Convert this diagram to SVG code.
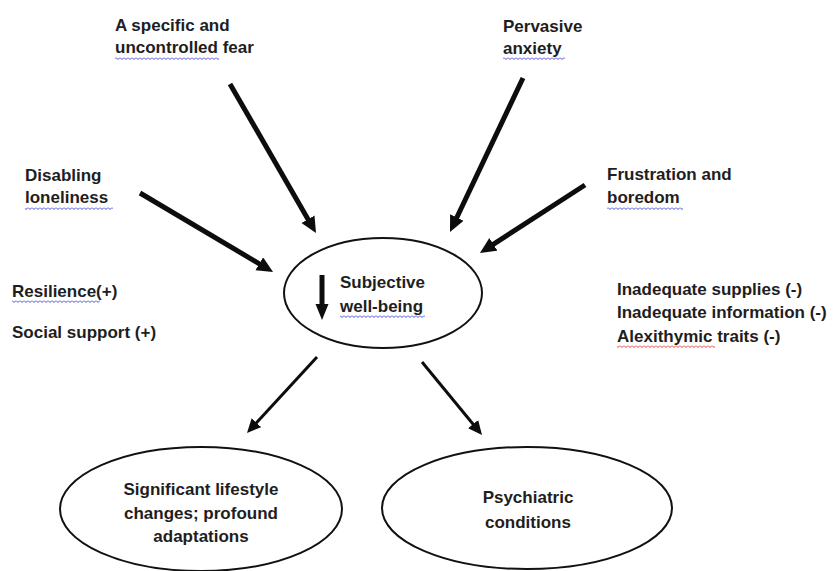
<svg xmlns="http://www.w3.org/2000/svg" width="833" height="571" viewBox="0 0 833 571">
  <style>
    .t { font-family: "Liberation Sans", Arial, sans-serif; font-weight: bold; font-size: 17px; fill: #1e1e1e; }
    .c { text-anchor: middle; }
    .node { fill: #ffffff; stroke: #111111; stroke-width: 2; }
    .thick { stroke: #0d0d0d; stroke-width: 5; fill: none; marker-end: url(#headL); }
    .thin { stroke: #0d0d0d; stroke-width: 3; fill: none; marker-end: url(#headS); }
  </style>
  <defs>
    <marker id="headL" markerUnits="userSpaceOnUse" markerWidth="18" markerHeight="16" refX="2" refY="7.5" orient="auto">
      <path d="M0,0 L16,7.5 L0,15 z" fill="#0d0d0d"/>
    </marker>
    <marker id="headS" markerUnits="userSpaceOnUse" markerWidth="16" markerHeight="14" refX="2" refY="6.5" orient="auto">
      <path d="M0,0 L14,6.5 L0,13 z" fill="#0d0d0d"/>
    </marker>
    <pattern id="wavyBlue" width="4" height="3" patternUnits="userSpaceOnUse">
      <path d="M0,0.5 L2,2.5 L4,0.5" stroke="#4a4ad6" stroke-width="1" fill="none"/>
    </pattern>
    <pattern id="wavyRed" width="4" height="3" patternUnits="userSpaceOnUse">
      <path d="M0,0.5 L2,2.5 L4,0.5" stroke="#e04040" stroke-width="1" fill="none"/>
    </pattern>
  </defs>

  <rect width="833" height="571" fill="#ffffff"/>

  <g id="connectors">
    <line class="thick" x1="230" y1="84" x2="309" y2="220.9"/>
    <line class="thick" x1="140" y1="193" x2="261" y2="264.8"/>
    <line class="thick" x1="523" y1="78" x2="456" y2="219.3"/>
    <line class="thick" x1="585" y1="185" x2="491.7" y2="245.4"/>
    <line class="thin" x1="317" y1="357" x2="255.1" y2="424.2"/>
    <line class="thin" x1="422" y1="362" x2="474.4" y2="425.7"/>
  </g>

  <g id="fear">
    <text class="t" x="115" y="31">A specific and</text>
    <text class="t" x="115" y="53">uncontrolled fear</text>
    <rect x="115" y="57" width="104" height="3" fill="url(#wavyBlue)"/>
  </g>

  <g id="anxiety">
    <text class="t" x="503" y="32">Pervasive</text>
    <text class="t" x="503" y="54">anxiety</text>
    <rect x="503" y="57" width="62" height="3" fill="url(#wavyBlue)"/>
  </g>

  <g id="loneliness">
    <text class="t" x="25" y="181">Disabling</text>
    <text class="t" x="25" y="203">loneliness</text>
    <rect x="25" y="207" width="88" height="3" fill="url(#wavyBlue)"/>
  </g>

  <g id="frustration">
    <text class="t" x="607" y="180">Frustration and</text>
    <text class="t" x="607" y="203">boredom</text>
    <rect x="607" y="207" width="76" height="3" fill="url(#wavyBlue)"/>
  </g>

  <g id="protective">
    <text class="t" x="12" y="297">Resilience(+)</text>
    <rect x="12" y="300" width="88" height="3" fill="url(#wavyBlue)"/>
    <text class="t" x="12" y="338">Social support (+)</text>
  </g>

  <g id="risk">
    <text class="t" x="617" y="295">Inadequate supplies (-)</text>
    <text class="t" x="617" y="318">Inadequate information (-)</text>
    <text class="t" x="617" y="342">Alexithymic traits (-)</text>
    <rect x="617" y="345" width="98" height="3" fill="url(#wavyRed)"/>
  </g>

  <g id="wellbeing">
    <ellipse class="node" cx="383" cy="293" rx="99" ry="55"/>
    <line x1="322" y1="275" x2="322" y2="306" stroke="#0d0d0d" stroke-width="5"/>
    <path d="M315.5,304 L328.5,304 L322,320 z" fill="#0d0d0d"/>
    <text class="t" x="340" y="288">Subjective</text>
    <text class="t" x="340" y="312">well-being</text>
    <rect x="340" y="315" width="85" height="3" fill="url(#wavyBlue)"/>
  </g>

  <g id="lifestyle">
    <ellipse class="node" cx="201" cy="509" rx="141" ry="62"/>
    <text class="t c" x="201" y="495">Significant lifestyle</text>
    <text class="t c" x="201" y="519">changes; profound</text>
    <text class="t c" x="201" y="542">adaptations</text>
  </g>

  <g id="psychiatric">
    <ellipse class="node" cx="527" cy="508" rx="145" ry="61"/>
    <text class="t c" x="528" y="503">Psychiatric</text>
    <text class="t c" x="528" y="528">conditions</text>
  </g>
</svg>
